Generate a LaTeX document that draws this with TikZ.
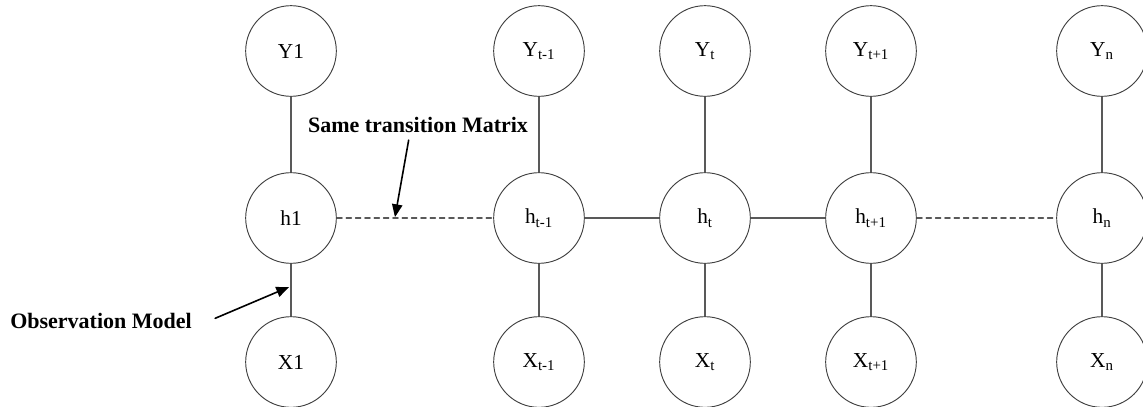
\documentclass[tikz,border=0pt]{standalone}
\usepackage{fontspec}
\setmainfont{Liberation Serif}
\usetikzlibrary{arrows}

\tikzset{
  state/.style={circle,draw=black!75,line width=0.7pt,minimum size=68pt,inner sep=0pt,
    font=\fontsize{16}{19}\selectfont},
  link/.style={draw=black!65,line width=0.8pt},
  note/.style={font=\fontsize{16.5}{19}\selectfont\bfseries},
}

\begin{document}
\begin{tikzpicture}[line cap=round,line join=round,>=triangle 45,x=0.75pt,y=-0.75pt]
	\useasboundingbox (0,0) rectangle (1143,407);
	% observed outputs
	\node[state] (y1) at (291,51) {Y1};
	\node[state] (yp) at (539,51) {Y\textsubscript{t-1}};
	\node[state] (yt) at (705,51) {Y\textsubscript{t}};
	\node[state] (yq) at (871,51) {Y\textsubscript{t+1}};
	\node[state] (yn) at (1102,51) {Y\textsubscript{n}};
	% hidden states
	\node[state] (h1) at (291,218) {h1};
	\node[state] (hp) at (539,218) {h\textsubscript{t-1}};
	\node[state] (ht) at (705,218) {h\textsubscript{t}};
	\node[state] (hq) at (871,218) {h\textsubscript{t+1}};
	\node[state] (hn) at (1102,218) {h\textsubscript{n}};
	% inputs
	\node[state] (x1) at (291,362) {X1};
	\node[state] (xp) at (539,362) {X\textsubscript{t-1}};
	\node[state] (xt) at (705,362) {X\textsubscript{t}};
	\node[state] (xq) at (871,362) {X\textsubscript{t+1}};
	\node[state] (xn) at (1102,362) {X\textsubscript{n}};

	\draw[link] (y1) -- (h1) -- (x1);
	\draw[link] (yp) -- (hp) -- (xp);
	\draw[link] (yt) -- (ht) -- (xt);
	\draw[link] (yq) -- (hq) -- (xq);
	\draw[link] (yn) -- (hn) -- (xn);
	\draw[link] (hp) -- (ht) -- (hq);
	\draw[link,dash pattern=on 4pt off 3pt] (h1) -- (hp);
	\draw[link,dash pattern=on 4pt off 3pt] (hq) -- (hn);

	% labels
	\node[note] (obs) at (101,321) {Observation Model};
	\node[note] (same) at (418,125) {Same transition Matrix};
	\coordinate (obstip) at (289,287);
	\coordinate (sametip) at (395,217);
	\draw[->,line width=1.2pt] (obs.east) ++(14pt,2pt) -- (obstip);
	\draw[->,line width=1.2pt] (same.south) ++(-7pt,-2pt) -- (sametip);
\end{tikzpicture}
\end{document}
